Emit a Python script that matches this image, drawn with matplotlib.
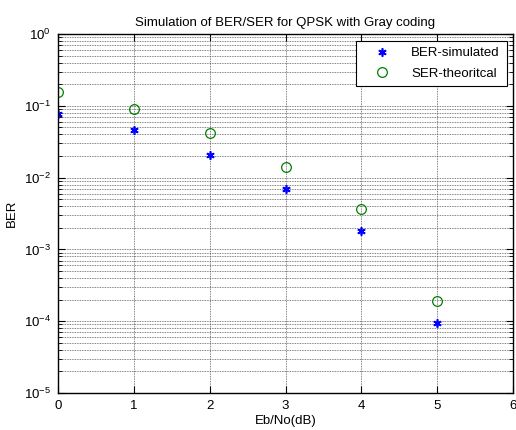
import numpy as np
import matplotlib
matplotlib.use("Agg")
import matplotlib.pyplot as plt

plt.rcParams['font.family'] = ['Liberation Sans', 'DejaVu Sans']
plt.rcParams['mathtext.default'] = 'regular'
plt.rcParams['font.size'] = 9.5

# data
ebno_db = [0, 1, 2, 3, 4, 5]
ber_sim = [0.077, 0.0465, 0.0206, 0.0069, 0.0018, 9.5e-5]
ser_theory = [0.157, 0.091, 0.0414, 0.0139, 0.0036, 1.93e-4]

fig = plt.figure(figsize=(5.16, 4.3), dpi=100)
ax = fig.add_axes([0.1124, 0.086, 0.882, 0.835])

ax.semilogy(ebno_db, ber_sim, linestyle='none', marker=(6, 2, 0), color='blue',
            markersize=6, markeredgewidth=1.2, label='BER-simulated')
ax.semilogy(ebno_db, ser_theory, 'o', color='green', markerfacecolor='none',
            markersize=7, markeredgewidth=0.9, label='SER-theoritcal')

ax.set_xlim(0, 6)
ax.set_ylim(1e-5, 1)
ax.set_xticks(range(7))
ax.set_yticks([1e-5, 1e-4, 1e-3, 1e-2, 1e-1, 1])
ax.grid(True, which='major', linestyle=(0, (1, 1)), color='0.35', linewidth=0.6)
ax.grid(True, which='minor', linestyle=(0, (1, 1)), color='0.35', linewidth=0.6)
ax.tick_params(which='both', direction='in', top=True, right=True, labelsize=9.5)
ax.tick_params(which='major', length=5, pad=5)
ax.tick_params(which='minor', length=3)
for s in ax.spines.values():
    s.set_linewidth(1.0)

ax.set_title('Simulation of BER/SER for QPSK with Gray coding', fontsize=9.5, pad=6)
ax.set_xlabel('Eb/No(dB)', fontsize=9.5, labelpad=2)
ax.set_ylabel('BER', fontsize=9.5, labelpad=4)

leg = ax.legend(loc='upper right', fancybox=False, edgecolor='black', framealpha=1,
                fontsize=9.5, borderaxespad=0.5, handlelength=3.0, handletextpad=0.7,
                labelspacing=0.6, borderpad=0.5)
leg.get_frame().set_linewidth(0.8)

fig.savefig('out.png', dpi=100)
